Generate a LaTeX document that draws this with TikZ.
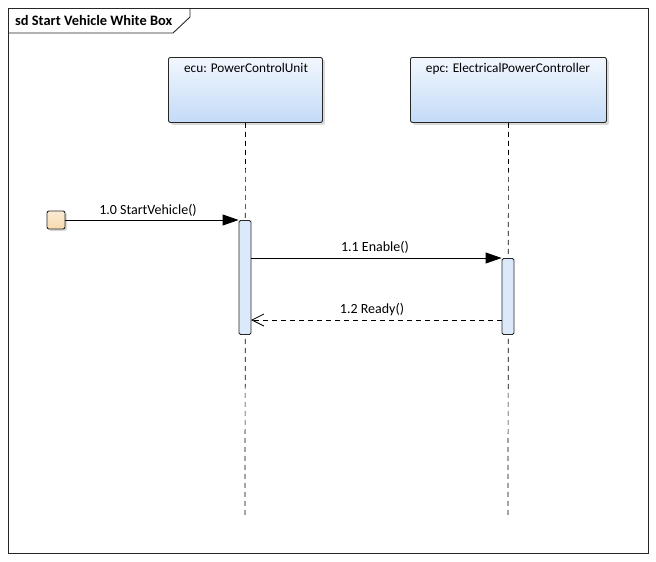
\documentclass[tikz,border=0pt]{standalone}
\usepackage{fontspec}
\setmainfont{Carlito}
\usetikzlibrary{arrows.meta,shadows}
\definecolor{headtop}{HTML}{F2F7FE}
\definecolor{headbot}{HTML}{C3DBF7}
\definecolor{actfill}{HTML}{DCE9FA}
\definecolor{startfill}{HTML}{F7D9AE}
\definecolor{startfilltop}{HTML}{FBEBD3}
\begin{document}
\begin{tikzpicture}[x=1pt,y=-1pt,
  every node/.style={font=\fontsize{14}{16}\selectfont},
  headfont/.style={font=\fontsize{13.3}{16}\selectfont},
  headbox/.style={draw=black!85, line width=0.9pt, rounded corners=2pt, top color=headtop, bottom color=headbot, drop shadow={shadow xshift=2.5pt, shadow yshift=-2.5pt, fill=black!25, opacity=0.6}},
  actbox/.style={draw=black!85, line width=0.9pt, rounded corners=1.5pt, fill=actfill},
  lifeline/.style={dashed, dash pattern=on 5pt off 4pt, line width=0.7pt},
  syncmsg/.style={line width=0.9pt, -{Triangle[length=16pt,width=11pt]}},
  replymsg/.style={line width=0.7pt, dashed, dash pattern=on 5pt off 4pt, -{Straight Barb[length=12pt,width=12pt,line width=0.8pt]}},
  lbl/.style={inner sep=0pt, anchor=base}
]
\useasboundingbox (0,0) rectangle (656,562);
% frame
\draw[line width=0.9pt, black!85] (8,8) rectangle (648,553);
\draw[line width=0.9pt, black!85] (8,33) -- (173,33) -- (190,17) -- (190,8);
\node[anchor=west, font=\bfseries\fontsize{14.4}{16}\selectfont, inner sep=0pt] (title) at (15,20.5) {sd Start Vehicle White Box};

% lifeline heads
\node[headbox, minimum width=154pt, minimum height=65pt, anchor=north west, inner sep=0pt] (ecu) at (168,57) {};
\node[headfont, anchor=north, inner sep=0pt] (ecut) at (246,63) {ecu: PowerControlUnit};
\node[headbox, minimum width=196pt, minimum height=65pt, anchor=north west, inner sep=0pt] (epc) at (410,57) {};
\node[headfont, anchor=north, inner sep=0pt] (epct) at (508,63) {epc: ElectricalPowerController};

% lifelines
\coordinate (ecuend) at (245,515);
\coordinate (epcend) at (508,515);
\draw[lifeline] (ecu.south) -- (ecuend);
\draw[lifeline] (epc.south) -- (epcend);

% activations
\node[actbox, minimum width=12pt, minimum height=114pt, anchor=north, inner sep=0pt] (act1) at (245,220) {};
\node[actbox, minimum width=12pt, minimum height=76pt, anchor=north, inner sep=0pt] (act2) at (508,258) {};

% start
\node[draw=black!85, line width=0.9pt, rounded corners=2pt, top color=startfilltop, bottom color=startfill, minimum size=18pt, inner sep=0pt, drop shadow={shadow xshift=2pt, shadow yshift=-2pt, fill=black!25, opacity=0.6}] (start) at (56,220) {};

% messages
\coordinate (p11a) at (251,258);
\coordinate (p12a) at (502,320);
\coordinate (p12b) at (251,320);
\draw[syncmsg] (start.east) -- (act1.north west);
\node[lbl] (m10) at (148,214) {1.0 StartVehicle()};
\draw[syncmsg] (p11a) -- (act2.north west);
\node[lbl] (m11) at (375,251) {1.1 Enable()};
\draw[replymsg] (p12a) -- (p12b);
\node[lbl] (m12) at (372,313) {1.2 Ready()};
\end{tikzpicture}
\end{document}
